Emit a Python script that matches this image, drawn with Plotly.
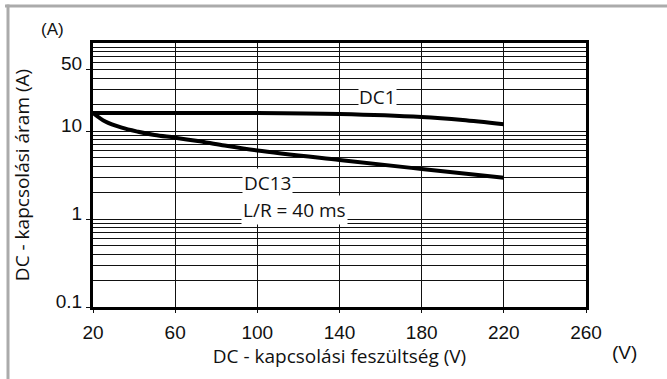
import plotly.graph_objects as go

# Data
dc1_voltage = [20, 60, 100, 140, 180, 200, 220]
dc1_current = [16.0, 16.0, 16.0, 15.6, 14.4, 13.3, 11.9]

dc13_voltage = [20, 26, 34, 42, 50, 60, 71, 83, 100, 140, 180, 220]
dc13_current = [16.0, 12.8, 10.9, 9.8, 9.0, 8.4, 7.7, 6.9, 6.0, 4.68, 3.7, 2.94]

x_ticks = [20, 60, 100, 140, 180, 220, 260]
y_ticks = [0.1, 1, 10, 50]
y_ticklabels = ["0.1", "1", "10", "50"]
y_minor = [m * d for d in (0.1, 1, 10) for m in range(2, 10) if m * d != 50]

W, H = 667, 379
L, R, T, B = 93, 81, 43, 72
PW, PH = W - L - R, H - T - B


def px(xp):
    return (xp - L) / PW


def py(yp):
    return (H - B - yp) / PH


fig = go.Figure()
fig.add_trace(go.Scatter(x=dc1_voltage, y=dc1_current, mode="lines",
                         line=dict(color="black", width=4, shape="spline", smoothing=0.8),
                         showlegend=False, hoverinfo="skip"))
fig.add_trace(go.Scatter(x=dc13_voltage, y=dc13_current, mode="lines",
                         line=dict(color="black", width=4, shape="spline", smoothing=1.0),
                         showlegend=False, hoverinfo="skip"))

tick_font = dict(family="Liberation Sans, Arial, sans-serif", size=19, color="#111")
title_font = dict(family="Open Sans, Noto Sans, sans-serif", size=19, color="#111")

fig.update_layout(
    width=W, height=H,
    margin=dict(l=L, r=R, t=T, b=B),
    paper_bgcolor="white", plot_bgcolor="white",
    xaxis=dict(range=[20, 260], tickvals=x_ticks, ticktext=[str(v) for v in x_ticks],
               showgrid=True, gridcolor="#111", gridwidth=1,
               showline=True, linecolor="black", linewidth=3, mirror=True,
               ticks="outside", ticklen=3, tickcolor="#111", tickfont=tick_font,
               ticklabelstandoff=3,
               zeroline=False, fixedrange=True, automargin=False,
               title=dict(text="DC - kapcsolási feszültség (V)", font=title_font, standoff=8)),
    yaxis=dict(type="log", range=[-1, 2], tickvals=y_ticks, ticktext=y_ticklabels,
               showgrid=True, gridcolor="#111", gridwidth=1,
               showline=True, linecolor="black", linewidth=3, mirror=True,
               ticks="outside", ticklen=4, tickcolor="#111", tickfont=tick_font,
               ticklabelshift=-6, zeroline=False, fixedrange=True, automargin=False,
               minor=dict(tickmode="array", tickvals=y_minor, showgrid=True,
                          gridcolor="#111", gridwidth=1, ticks=""),
               title=dict(text="DC - kapcsolási áram (A)", font=title_font, standoff=22)),
)

label_font = dict(family="Open Sans, Noto Sans, sans-serif", size=19, color="#111")
fig.add_annotation(x=158.7, y=1.386, text="DC1", showarrow=False, bgcolor="white",
                   font=label_font, xanchor="center", yanchor="middle", borderpad=0)
fig.add_annotation(x=105, y=0.409, text="DC13", showarrow=False, bgcolor="white",
                   font=label_font, xanchor="center", yanchor="middle", borderpad=1)
fig.add_annotation(x=118.3, y=0.102, text="L/R = 40 ms", showarrow=False, bgcolor="white",
                   font=label_font, xanchor="center", yanchor="middle", borderpad=1)

fig.add_annotation(x=px(52), y=py(29), xref="paper", yref="paper", text="(A)", showarrow=False,
                   xanchor="center", yanchor="middle",
                   font=dict(family="Liberation Sans, Arial, sans-serif", size=17, color="#111"))
fig.add_annotation(x=px(624), y=py(352), xref="paper", yref="paper", text="(V)", showarrow=False,
                   xanchor="center", yanchor="middle",
                   font=dict(family="Liberation Sans, Arial, sans-serif", size=19, color="#111"))

# outer gray frame (top and left edges)
fig.add_shape(type="rect", xref="paper", yref="paper",
              x0=px(5), x1=px(W + 6), y0=py(4.5), y1=py(7.5),
              line=dict(width=0), fillcolor="#ababab", layer="above")
fig.add_shape(type="rect", xref="paper", yref="paper",
              x0=px(6.5), x1=px(9.5), y0=py(4.5), y1=py(H + 6),
              line=dict(width=0), fillcolor="#ababab", layer="above")

fig.write_html("out.html", config={"displayModeBar": False, "staticPlot": True},
               post_script="document.body.style.margin='0';document.body.style.overflow='hidden';")
